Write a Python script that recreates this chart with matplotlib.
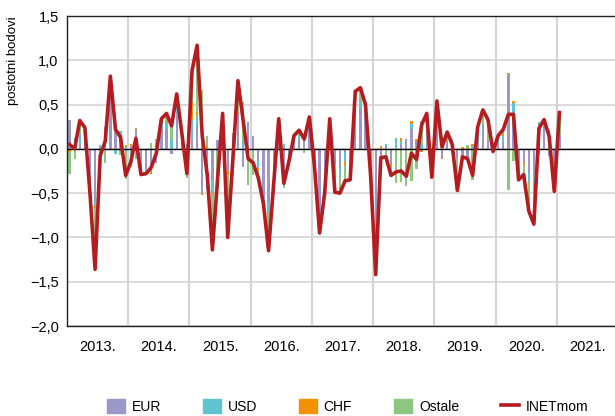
import numpy as np
import matplotlib
matplotlib.use('Agg')
import matplotlib.pyplot as plt
from matplotlib.patches import Patch
from matplotlib.lines import Line2D

plt.rcParams['font.family'] = ['Liberation Sans', 'DejaVu Sans']

# monthly data, Jan 2013 .. Jan 2021
years = ['2013.', '2014.', '2015.', '2016.', '2017.', '2018.', '2019.', '2020.', '2021.']

inet = [0.05, 0.00, 0.32, 0.24, -0.50, -1.36, -0.08, 0.09, 0.82, 0.22, 0.13, -0.30,
        -0.15, 0.12, -0.29, -0.28, -0.21, -0.05, 0.34, 0.40, 0.26, 0.62, 0.18, -0.28,
        0.88, 1.17, 0.15, -0.30, -1.14, -0.35, 0.40, -1.00, -0.12, 0.77, 0.33, -0.11,
        -0.16, -0.33, -0.62, -1.15, -0.40, 0.34, -0.39, -0.14, 0.15, 0.21, 0.11, 0.36,
        -0.20, -0.95, -0.50, 0.34, -0.49, -0.50, -0.36, -0.35, 0.65, 0.69, 0.50, -0.30,
        -1.42, -0.10, -0.09, -0.30, -0.26, -0.25, -0.31, -0.05, -0.12, 0.27, 0.40, -0.32,
        0.54, 0.02, 0.19, 0.05, -0.47, -0.09, -0.11, -0.30, 0.25, 0.44, 0.33, -0.03,
        0.15, 0.22, 0.39, 0.39, -0.35, -0.29, -0.70, -0.85, 0.23, 0.33, 0.14, -0.48,
        0.41]

eur = [0.33, 0.12, 0.05, 0.20, -0.32, -0.57, -0.02, 0.25, 0.60, 0.22, 0.05, -0.02,
       0.03, 0.22, -0.10, -0.23, -0.26, -0.16, 0.22, 0.22, -0.06, 0.37, 0.10, 0.00,
       0.10, 0.24, -0.50, -0.35, -0.35, 0.10, 0.38, -0.25, 0.18, 0.40, -0.20, 0.30,
       0.14, -0.14, -0.55, -0.60, -0.25, 0.12, -0.30, -0.12, 0.12, 0.10, 0.10, 0.20,
       -0.20, -0.92, -0.27, 0.30, -0.18, -0.20, -0.05, -0.15, 0.50, 0.45, 0.40, -0.30,
       -1.30, -0.10, 0.02, -0.17, 0.00, 0.05, 0.11, 0.22, 0.09, -0.02, 0.25, -0.20,
       0.20, -0.10, 0.08, 0.05, -0.10, -0.07, -0.13, 0.00, 0.18, 0.26, 0.10, -0.05,
       0.06, 0.07, 0.84, 0.30, -0.25, -0.16, -0.27, -0.27, 0.20, 0.30, -0.08, -0.15,
       0.16]

usd = [0.00, 0.00, 0.12, 0.02, 0.00, -0.08, 0.04, 0.00, 0.02, -0.06, 0.15, 0.02,
       -0.06, 0.00, -0.08, -0.03, 0.00, 0.00, 0.07, 0.08, 0.10, 0.17, 0.05, 0.05,
       0.23, 0.13, 0.00, -0.10, -0.15, -0.05, 0.00, 0.00, 0.00, 0.00, 0.10, -0.05,
       0.00, -0.08, -0.04, -0.12, 0.00, 0.06, 0.05, 0.00, 0.03, 0.06, 0.04, 0.14,
       0.00, 0.00, 0.00, 0.00, -0.05, -0.08, -0.10, 0.00, 0.08, 0.08, 0.00, 0.00,
       0.00, 0.00, 0.04, 0.00, 0.12, 0.04, 0.00, 0.06, 0.00, 0.05, 0.05, 0.00,
       0.00, 0.05, 0.00, 0.06, 0.00, 0.00, 0.00, 0.03, 0.00, 0.00, 0.00, 0.00,
       0.04, 0.08, -0.02, 0.22, -0.05, 0.00, -0.10, -0.19, 0.10, 0.00, 0.00, 0.00,
       0.00]

chf = [-0.03, 0.00, 0.00, 0.00, -0.02, -0.02, 0.00, 0.00, 0.00, 0.00, 0.00, 0.02,
       0.02, 0.02, 0.00, -0.02, -0.02, 0.00, 0.02, 0.02, 0.00, 0.02, 0.00, 0.00,
       0.20, 0.05, -0.02, 0.03, -0.02, 0.00, 0.00, -0.05, 0.00, 0.02, 0.00, 0.00,
       0.00, -0.02, 0.00, -0.02, 0.00, 0.00, 0.00, 0.00, 0.00, 0.00, 0.02, 0.00,
       0.00, 0.00, -0.02, 0.00, -0.03, 0.00, -0.03, -0.03, 0.00, 0.00, 0.00, 0.00,
       0.00, 0.03, 0.00, -0.03, 0.00, 0.03, 0.00, 0.03, 0.02, -0.02, 0.00, 0.00,
       0.00, -0.02, 0.02, 0.00, 0.00, 0.02, 0.01, 0.02, 0.00, 0.00, 0.00, 0.00,
       0.02, 0.02, 0.02, 0.02, 0.00, -0.02, 0.00, -0.02, 0.00, 0.00, 0.00, -0.02,
       0.00]

ostale = [-0.25, -0.12, 0.15, 0.02, -0.16, -0.69, -0.10, -0.16, 0.20, 0.06, -0.07, -0.32,
          -0.14, -0.11, -0.11, 0.00, 0.07, 0.11, 0.03, 0.08, 0.22, 0.06, 0.03, -0.33,
          0.35, 0.75, 0.67, 0.12, -0.62, -0.40, 0.02, -0.70, -0.30, 0.35, 0.43, -0.36,
          -0.30, -0.09, -0.03, -0.41, -0.15, 0.16, -0.14, -0.02, 0.00, 0.05, -0.05, 0.02,
          0.00, -0.03, -0.21, 0.04, -0.23, -0.22, -0.18, -0.17, 0.07, 0.16, 0.10, 0.00,
          -0.12, -0.03, -0.15, -0.10, -0.38, -0.37, -0.42, -0.36, -0.23, 0.26, 0.10, -0.12,
          0.34, 0.09, 0.09, -0.06, -0.37, -0.04, 0.03, -0.35, 0.07, 0.18, 0.23, 0.02,
          0.03, 0.05, -0.45, -0.14, -0.05, -0.11, -0.33, -0.37, -0.07, 0.03, 0.22, -0.31,
          0.25]

series = [('EUR', eur, '#9d96c9'), ('USD', usd, '#5ec4d0'),
          ('CHF', chf, '#f39200'), ('Ostale', ostale, '#8cc780')]

x = np.arange(len(inet))

fig = plt.figure(figsize=(6.15, 4.16), dpi=100)
ax = fig.add_axes([67 / 615, 1 - 326 / 416, 1 - 67 / 615, 310 / 416])

# stacked bars, positives up and negatives down
pos = np.zeros(len(x))
neg = np.zeros(len(x))
for name, vals, col in series:
    v = np.array(vals)
    bottom = np.where(v >= 0, pos, neg)
    ax.bar(x, v, bottom=bottom, width=0.45, color=col, linewidth=0, zorder=2)
    pos = pos + np.where(v >= 0, v, 0)
    neg = neg + np.where(v < 0, v, 0)

ax.plot(x, inet, color='#b51c1f', lw=2.6, zorder=4)
ax.axhline(0, color='black', lw=1.0, zorder=3)

ax.set_xlim(-0.5, 106.9)
ax.set_ylim(-2.0, 1.5)

yt = np.arange(-2.0, 1.51, 0.5)
ax.set_yticks(yt)
ax.set_yticklabels([('%.1f' % t).replace('.', ',').replace('-', '\u2212') for t in yt])
ax.tick_params(axis='y', length=0, labelsize=10.5, pad=6)
ax.yaxis.grid(True, color='#d4d4d4', lw=1.2, zorder=0)

ax.set_xticks(np.arange(11.5, 106, 12))
ax.set_xticks(np.arange(5.5, 108, 12), minor=True)
ax.set_xticklabels([])
ax.set_xticklabels(years, minor=True)
ax.tick_params(axis='x', which='both', length=0, labelsize=10.5, pad=10)
ax.xaxis.grid(True, which='major', color='#d4d4d4', lw=1.5, zorder=0)

for s in ['left', 'bottom', 'top']:
    ax.spines[s].set_color('#222222')
    ax.spines[s].set_linewidth(1.0)
ax.spines['right'].set_visible(False)

ax.set_ylabel('postotni bodovi', fontsize=9.5, loc='top')
ax.yaxis.set_label_coords(-0.088, 1.0)

handles = [Patch(color=c, label=n) for n, v, c in series]
handles.append(Line2D([0], [0], color='#b51c1f', lw=2.6, label='INETmom'))
fig.legend(handles=handles, loc='lower center', bbox_to_anchor=(0.565, -0.025), ncol=5,
           frameon=False, fontsize=10, handlelength=1.3, handleheight=1.2,
           columnspacing=3.0, handletextpad=0.5)

fig.savefig('out.png', dpi=100)
